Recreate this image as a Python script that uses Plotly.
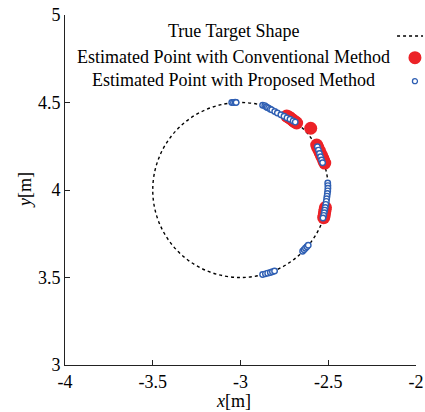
import plotly.graph_objects as go

# ---- data ----
target_center = (-3.0, 4.0)
target_radius = 0.5

conv_x = [-2.737, -2.728, -2.720, -2.712, -2.704, -2.696, -2.688, -2.680,
          -2.600,
          -2.566, -2.560, -2.553, -2.546, -2.539, -2.532, -2.526, -2.520,
          -2.516, -2.518, -2.520, -2.522, -2.524, -2.526]
conv_y = [4.423, 4.418, 4.413, 4.407, 4.400, 4.394, 4.389, 4.383,
          4.353,
          4.257, 4.243, 4.228, 4.213, 4.198, 4.183, 4.168, 4.154,
          3.900, 3.888, 3.876, 3.864, 3.852, 3.842]

prop_x = [-3.050, -3.040, -3.030, -3.025,
          -2.874, -2.862, -2.855, -2.848, -2.840, -2.830, -2.822, -2.805, -2.790,
          -2.770, -2.752, -2.735, -2.718, -2.700, -2.688,
          -2.562, -2.556, -2.550, -2.544, -2.538, -2.532,
          -2.503, -2.502, -2.502, -2.503, -2.505, -2.507, -2.509, -2.511, -2.514,
          -2.517, -2.520, -2.523, -2.526, -2.530,
          -2.646, -2.638, -2.630, -2.622, -2.614,
          -2.874, -2.858, -2.845, -2.830, -2.818, -2.806]
prop_y = [4.500, 4.500, 4.501, 4.500,
          4.484, 4.482, 4.476, 4.472, 4.468, 4.462, 4.458, 4.449, 4.440,
          4.430, 4.421, 4.412, 4.404, 4.395, 4.388,
          4.247, 4.228, 4.209, 4.190, 4.171, 4.156,
          4.040, 4.025, 4.010, 3.995, 3.980, 3.965, 3.950, 3.935, 3.918,
          3.900, 3.885, 3.870, 3.855, 3.840,
          3.650, 3.659, 3.667, 3.676, 3.684,
          3.517, 3.521, 3.525, 3.529, 3.533, 3.537]

x_ticks = [-4, -3.5, -3, -2.5, -2]
x_tick_labels = ["-4", "-3.5", "-3", "-2.5", "-2"]
y_ticks = [3, 3.5, 4, 4.5, 5]
y_tick_labels = ["3", "3.5", "4", "4.5", "5"]

legend_labels = ["True Target Shape",
                 "Estimated Point with Conventional Method",
                 "Estimated Point with Proposed Method"]

RED = "#ec2227"
BLUE = "#2f5fb3"
FONT = "Liberation Serif"

fig = go.Figure()

fig.add_trace(go.Scatter(
    x=conv_x, y=conv_y, mode="markers",
    marker=dict(size=13, color=RED, line=dict(width=0)),
    showlegend=False, hoverinfo="skip", cliponaxis=False))

fig.add_trace(go.Scatter(
    x=prop_x, y=prop_y, mode="markers",
    marker=dict(size=5.5, color="white", line=dict(width=1.4, color=BLUE)),
    showlegend=False, hoverinfo="skip", cliponaxis=False))

cx, cy = target_center
fig.add_shape(type="circle", xref="x", yref="y",
              x0=cx - target_radius, x1=cx + target_radius,
              y0=cy - target_radius, y1=cy + target_radius,
              line=dict(color="black", width=1.4, dash="dot"), layer="below")

# manual legend (text centred, symbols on the right)
leg_y = [0.954, 0.880, 0.814]
for lab, yy in zip(legend_labels, leg_y):
    fig.add_annotation(x=0.479, y=yy, xref="paper", yref="paper",
                       text=lab, showarrow=False, xanchor="center", yanchor="middle",
                       font=dict(family=FONT, size=18, color="black"))
fig.add_shape(type="line", xref="paper", yref="paper",
              x0=0.946, x1=1.02, y0=0.94, y1=0.94,
              line=dict(color="black", width=1.4, dash="dot"))
fig.add_shape(type="circle", xref="paper", yref="paper",
              xsizemode="pixel", ysizemode="pixel", xanchor=0.997, yanchor=0.878,
              x0=-6.5, x1=6.5, y0=-6.5, y1=6.5,
              fillcolor=RED, line=dict(width=0))
fig.add_shape(type="circle", xref="paper", yref="paper",
              xsizemode="pixel", ysizemode="pixel", xanchor=0.997, yanchor=0.811,
              x0=-2.5, x1=2.5, y0=-2.5, y1=2.5,
              fillcolor="white", line=dict(width=1.3, color=BLUE))

# axis titles
fig.add_annotation(x=0.48, y=-0.103, xref="paper", yref="paper",
                   text="<i>x</i>[m]", showarrow=False, xanchor="center", yanchor="middle",
                   font=dict(family=FONT, size=18, color="black"))
fig.add_annotation(x=-0.114, y=0.5, xref="paper", yref="paper",
                   text="<i>y</i>[m]", showarrow=False, xanchor="center", yanchor="middle",
                   textangle=-90, font=dict(family=FONT, size=18, color="black"))

axis_common = dict(showgrid=False, zeroline=False, showline=True, linecolor="#222222",
                   linewidth=1, ticks="inside", ticklen=5, tickcolor="#222222",
                   mirror=False, automargin=False,
                   tickfont=dict(family=FONT, size=18, color="black"))

fig.update_xaxes(range=[-4, -2], tickvals=x_ticks, ticktext=x_tick_labels, **axis_common)
fig.update_yaxes(range=[3, 5], tickvals=y_ticks, ticktext=y_tick_labels, **axis_common)

fig.update_layout(width=425, height=412,
                  margin=dict(l=65, r=9, t=15, b=47),
                  paper_bgcolor="white", plot_bgcolor="white",
                  showlegend=False)

fig.write_html("out.html", config={"displayModeBar": False},
               post_script="document.body.style.margin='0';document.body.style.overflow='hidden';")
